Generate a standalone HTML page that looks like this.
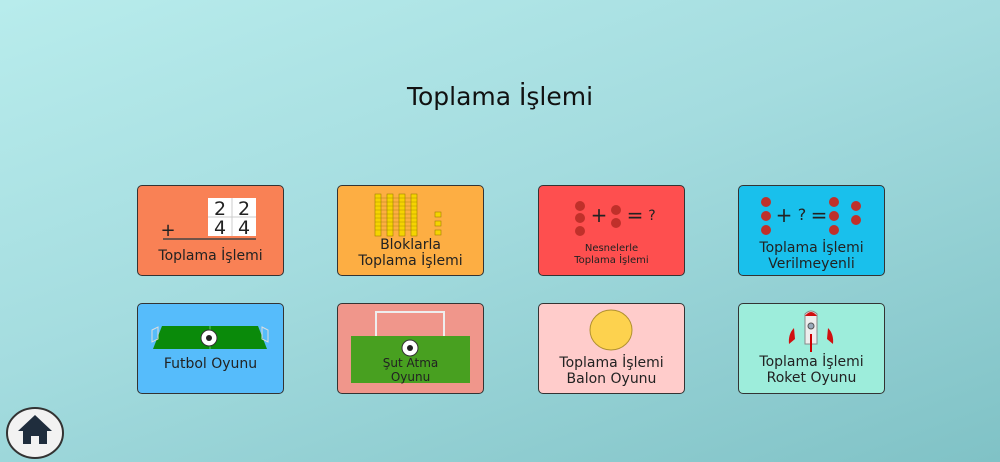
<!DOCTYPE html>
<html style="margin:0;width:1000px;height:462px;overflow:hidden"><head><meta charset="utf-8"><style>
body{margin:0;width:1000px;height:462px;overflow:hidden;position:relative;font-family:"DejaVu Sans","Liberation Sans",sans-serif;background:linear-gradient(160deg,#b8ecec 0%,#a4dcdf 45%,#80c2c6 100%);}
.t{position:absolute;top:82px;left:0;width:1000px;text-align:center;font-size:25px;color:#111;}
.c{position:absolute;width:147px;height:91px;border:1.5px solid #333;border-radius:5px;box-sizing:border-box;overflow:hidden}
.l{position:absolute;left:0;width:100%;text-align:center;font-size:14px;color:#222;line-height:16px;}
svg{position:absolute;left:0;top:0}
</style></head><body>
<div class="t">Toplama İşlemi</div>

<div class="c" style="left:137px;top:185px;background:#f98155">
<svg width="147" height="91">
<rect x="70" y="12" width="48" height="38" fill="#fff"/>
<line x1="94" y1="12" x2="94" y2="50" stroke="#ccc"/><line x1="70" y1="31" x2="118" y2="31" stroke="#ccc"/>
<text x="82" y="29" font-size="19" text-anchor="middle" fill="#222" font-family="DejaVu Sans">2</text>
<text x="106" y="29" font-size="19" text-anchor="middle" fill="#222" font-family="DejaVu Sans">2</text>
<text x="82" y="48" font-size="19" text-anchor="middle" fill="#222" font-family="DejaVu Sans">4</text>
<text x="106" y="48" font-size="19" text-anchor="middle" fill="#222" font-family="DejaVu Sans">4</text>
<text x="30" y="50" font-size="18" text-anchor="middle" fill="#222">+</text>
<line x1="25" y1="53" x2="118" y2="53" stroke="#444" stroke-width="1.5"/>
</svg>
<div class="l" style="top:62px">Toplama İşlemi</div></div>

<div class="c" style="left:337px;top:185px;background:#fdae43">
<svg width="147" height="91">
<g fill="#f5d400" stroke="#a08000" stroke-width="0.6">
<rect x="37" y="8" width="6" height="42"/><rect x="49" y="8" width="6" height="42"/><rect x="61" y="8" width="6" height="42"/><rect x="73" y="8" width="6" height="42"/>
<rect x="97" y="26" width="6" height="5"/><rect x="97" y="35" width="6" height="5"/><rect x="97" y="44" width="6" height="5"/>
</g>
<g stroke="#a08000" stroke-width="0.4"><path d="M37 12H79M37 16H79M37 20H79M37 24H79M37 28H79M37 32H79M37 36H79M37 40H79M37 44H79"/></g>
</svg>
<div class="l" style="top:51px">Bloklarla<br>Toplama İşlemi</div></div>

<div class="c" style="left:538px;top:185px;background:#fe4f4f">
<svg width="147" height="91">
<g fill="#c0302a"><circle cx="41" cy="20" r="5"/><circle cx="41" cy="32" r="5"/><circle cx="41" cy="45" r="5"/><circle cx="77" cy="24" r="5"/><circle cx="77" cy="37" r="5"/></g>
<text x="60" y="36" font-size="20" text-anchor="middle" fill="#222">+</text>
<text x="96" y="36" font-size="20" text-anchor="middle" fill="#222">=</text>
<text x="113" y="34" font-size="14" text-anchor="middle" fill="#222">?</text>
</svg>
<div class="l" style="top:57px;font-size:10px;line-height:12px">Nesnelerle<br>Toplama İşlemi</div></div>

<div class="c" style="left:738px;top:185px;background:#19c0ec">
<svg width="147" height="91">
<g fill="#c0302a"><circle cx="27" cy="16" r="5"/><circle cx="27" cy="30" r="5"/><circle cx="27" cy="44" r="5"/><circle cx="95" cy="16" r="5"/><circle cx="95" cy="30" r="5"/><circle cx="95" cy="44" r="5"/><circle cx="117" cy="20" r="5"/><circle cx="117" cy="34" r="5"/></g>
<text x="45" y="36" font-size="20" text-anchor="middle" fill="#222">+</text>
<text x="63" y="34" font-size="16" text-anchor="middle" fill="#222">?</text>
<text x="80" y="36" font-size="20" text-anchor="middle" fill="#222">=</text>
</svg>
<div class="l" style="top:54px">Toplama İşlemi<br>Verilmeyenli</div></div>

<div class="c" style="left:137px;top:303px;background:#56bcfb">
<svg width="147" height="91">
<polygon points="24,22 120,22 129,45 15,45" fill="#0a8a0a"/>
<line x1="72" y1="22" x2="72" y2="45" stroke="#6c6"/>
<path d="M14 26l6-3v12l-6 3z M124 23l6 3v12l-6-3z" fill="none" stroke="#ddd"/>
<circle cx="71" cy="34" r="8" fill="#fff" stroke="#333"/><circle cx="71" cy="34" r="3" fill="#222"/>
</svg>
<div class="l" style="top:52px">Futbol Oyunu</div></div>

<div class="c" style="left:337px;top:303px;background:#f0968b">
<svg width="147" height="91">
<rect x="38" y="8" width="68" height="28" fill="none" stroke="#eee" stroke-width="2"/>
<rect x="13" y="32" width="119" height="47" fill="#48a020"/>
<circle cx="72" cy="44" r="8" fill="#fff" stroke="#333"/><circle cx="72" cy="44" r="3" fill="#222"/>
</svg>
<div class="l" style="top:52px;font-size:12px;line-height:14px">Şut Atma<br>Oyunu</div></div>

<div class="c" style="left:538px;top:303px;background:#ffcccb">
<svg width="147" height="91">
<ellipse cx="72" cy="26" rx="21" ry="20" fill="#fdd24e" stroke="#b09030"/>
</svg>
<div class="l" style="top:51px">Toplama İşlemi<br>Balon Oyunu</div></div>

<div class="c" style="left:738px;top:303px;background:#9deddb">
<svg width="147" height="91">
<path d="M55 24q-6 6-5 16l6-5z M89 24q6 6 5 16l-6-5z" fill="#d01010"/>
<path d="M66 10q6-6 12 0v30h-12z" fill="#eee" stroke="#888"/>
<path d="M66 12q6-8 12 0z" fill="#d01010"/>
<circle cx="72" cy="22" r="3" fill="#9ab" stroke="#555"/>
<line x1="72" y1="30" x2="72" y2="48" stroke="#c00" stroke-width="2"/>
</svg>
<div class="l" style="top:50px">Toplama İşlemi<br>Roket Oyunu</div></div>

<svg width="70" height="62" style="left:0;top:400px">
<ellipse cx="35" cy="33" rx="28" ry="25" fill="#f2f2f2" stroke="#333" stroke-width="2"/>
<path d="M35 15 L18 31 h5 v13 h8 v-8 h8 v8 h8 v-13 h5z" fill="#1f2d3d"/>
</svg>
</body></html>
